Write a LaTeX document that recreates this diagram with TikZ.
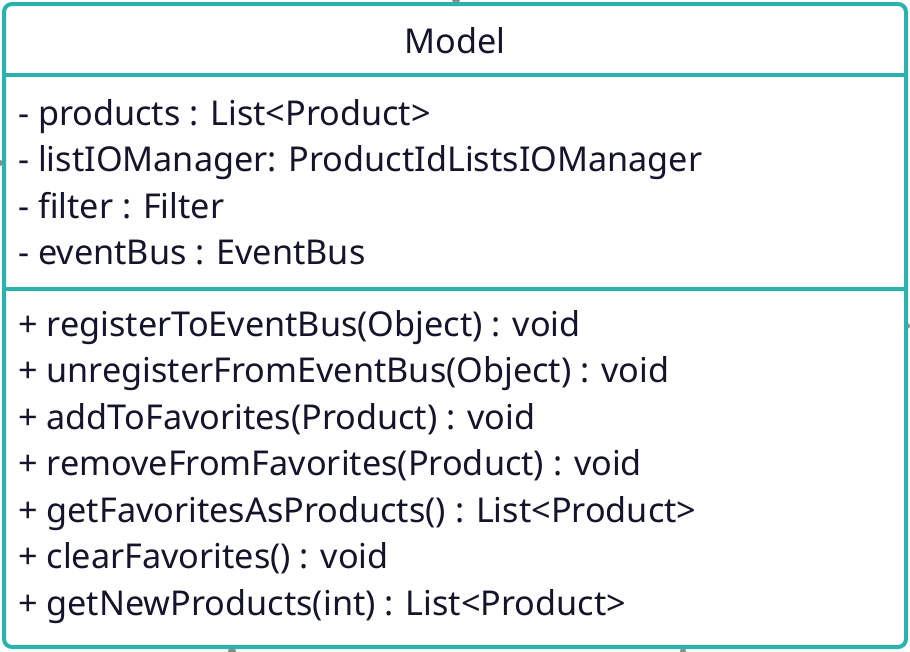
\documentclass[tikz,border=0pt]{standalone}
\usepackage{fontspec}
\setmainfont{Noto Sans}
\definecolor{teal1}{HTML}{2AB3AD}
\definecolor{ink}{HTML}{14142B}
\definecolor{dotgrey}{HTML}{8C8C8C}
\begin{document}
\begin{tikzpicture}[x=1pt,y=-1pt,
  member/.style={anchor=base west,inner sep=0pt,text=ink,font=\fontsize{34.2}{40}\selectfont},
  title/.style={anchor=base,inner sep=0pt,text=ink,font=\fontsize{34.2}{40}\selectfont},
  frame/.style={draw=teal1,line width=4pt},
  dot/.style={fill=dotgrey,draw=none}]
\useasboundingbox (0,0) rectangle (910,651);
\fill[dot] (456,0) circle (4);
\fill[dot] (0,163) circle (3);
\fill[dot] (907,326) circle (3);
\fill[dot] (232,651) circle (4);
\fill[dot] (683,651) circle (3);
\fill[white] (5,5) rectangle (905,646);
\node[title] (t) at (455,53.5) {Model};
\node[member] (a1) at (18,125) {- products : List<Product>};
\node[member] (a2) at (18,171.5) {- listIOManager: ProductIdListsIOManager};
\node[member] (a3) at (18,218) {- filter : Filter};
\node[member] (a4) at (18,264.5) {- eventBus : EventBus};
\node[member] (m1) at (18,336) {+ registerToEventBus(Object) : void};
\node[member] (m2) at (18,382.5) {+ unregisterFromEventBus(Object) : void};
\node[member] (m3) at (18,429) {+ addToFavorites(Product) : void};
\node[member] (m4) at (18,475.5) {+ removeFromFavorites(Product) : void};
\node[member] (m5) at (18,522) {+ getFavoritesAsProducts() : List<Product>};
\node[member] (m6) at (18,568.5) {+ clearFavorites() : void};
\node[member] (m7) at (18,615) {+ getNewProducts(int) : List<Product>};
\draw[frame,rounded corners=8pt] (4,4) rectangle (906,647);
\draw[frame] (4,75) -- (906,75);
\draw[frame] (4,289) -- (906,289);
\end{tikzpicture}
\end{document}
